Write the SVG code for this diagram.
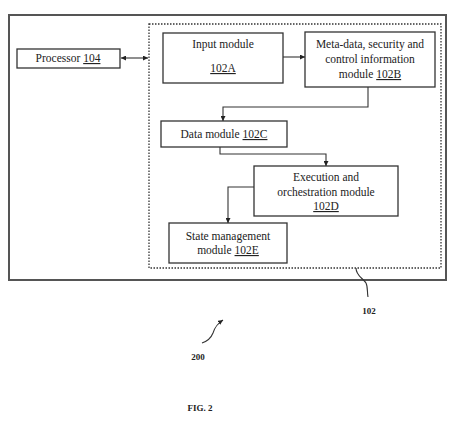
<svg xmlns="http://www.w3.org/2000/svg" width="450" height="424" viewBox="0 0 450 424">
<defs>
<style>
.box{fill:#fff;stroke:#333;stroke-width:1.3}
.outer{fill:#fff;stroke:#555;stroke-width:2}
.dot{fill:none;stroke:#333;stroke-width:1.3;stroke-dasharray:1.5 1.5}
.t{font-family:"Liberation Serif","Times New Roman",serif;font-size:11.5px;fill:#222;text-anchor:middle}
.l{font-weight:bold;font-size:9px}
.c{fill:none;stroke:#333;stroke-width:1.1}
</style>
<marker id="ah" viewBox="0 0 6 6" refX="6" refY="3" markerWidth="5" markerHeight="5" orient="auto-start-reverse" markerUnits="userSpaceOnUse">
<path d="M0,0 L6,3 L0,6 z" fill="#222"/>
</marker>
</defs>
<rect width="450" height="424" fill="#fff"/>
<g id="outer-200"><rect class="outer" x="9" y="15" width="437" height="265"/></g>
<g id="module-102"><rect class="dot" x="149" y="24" width="292" height="244"/></g>
<g id="processor-104">
<rect class="box" x="17" y="49" width="103" height="19"/>
<text class="t" x="68" y="62">Processor <tspan text-decoration="underline">104</tspan></text>
</g>
<g id="input-102A">
<rect class="box" x="163" y="33" width="120" height="50"/>
<text class="t" x="223" y="48">Input module</text>
<text class="t" x="223" y="72" text-decoration="underline">102A</text>
</g>
<g id="meta-102B">
<rect class="box" x="305" y="32" width="130" height="55"/>
<text class="t" x="370" y="48">Meta-data, security and</text>
<text class="t" x="370" y="63">control information</text>
<text class="t" x="370" y="78">module <tspan text-decoration="underline">102B</tspan></text>
</g>
<g id="data-102C">
<rect class="box" x="161" y="121" width="126" height="26"/>
<text class="t" x="224" y="138">Data module <tspan text-decoration="underline">102C</tspan></text>
</g>
<g id="exec-102D">
<rect class="box" x="254" y="166" width="144" height="50"/>
<text class="t" x="326" y="181">Execution and</text>
<text class="t" x="326" y="196">orchestration module</text>
<text class="t" x="326" y="210" text-decoration="underline">102D</text>
</g>
<g id="state-102E">
<rect class="box" x="169" y="223" width="118" height="40"/>
<text class="t" x="228" y="240">State management</text>
<text class="t" x="228" y="254">module <tspan text-decoration="underline">102E</tspan></text>
</g>
<g id="connectors">
<path class="c" d="M121,58 H148" marker-start="url(#ah)" marker-end="url(#ah)"/>
<path class="c" d="M283,57 H305" marker-end="url(#ah)"/>
<path class="c" d="M368,87 V107 H223 V121" marker-end="url(#ah)"/>
<path class="c" d="M220,147 V154 H326 V166" marker-end="url(#ah)"/>
<path class="c" d="M254,187 H228 V223" marker-end="url(#ah)"/>
<path class="c" d="M356,268 C356,276 363,278 366,283 C368,287 367,292 368,297"/>
<path class="c" d="M202,343 C208,341 211,338 213,333 C215,327 217,324 223,320" marker-end="url(#ah)"/>
</g>
<g id="labels">
<text class="t l" x="369" y="314">102</text>
<text class="t l" x="198" y="360">200</text>
<text class="t l" x="200" y="411" font-size="10">FIG. 2</text>
</g>
</svg>
